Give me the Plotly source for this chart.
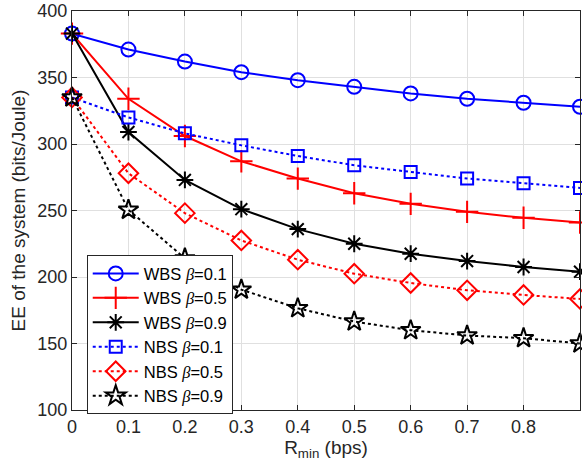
import plotly.graph_objects as go

x = [0, 0.1, 0.2, 0.3, 0.4, 0.5, 0.6, 0.7, 0.8, 0.9]
wbs_01 = [383, 371, 362, 354, 348, 343, 338, 334, 331, 328]
wbs_05 = [383, 334, 306, 287, 274, 263, 255, 249, 244.5, 241]
wbs_09 = [383, 309, 273, 251, 236, 225, 217.5, 212, 207.5, 204]
nbs_01 = [335, 320, 308, 299, 291, 284, 279, 274, 270.5, 267]
nbs_05 = [335, 278, 248, 227.5, 213, 202.5, 195.5, 190, 186.5, 183.5]
nbs_09 = [335, 250.5, 214, 190.5, 176.5, 166.5, 160, 156, 154, 150]

beta = "<span style=\"font-family:'Liberation Serif'\"><i>β</i></span>"
names = [f"WBS {beta}=0.1", f"WBS {beta}=0.5", f"WBS {beta}=0.9",
         f"NBS {beta}=0.1", f"NBS {beta}=0.5", f"NBS {beta}=0.9"]
series = [wbs_01, wbs_05, wbs_09, nbs_01, nbs_05, nbs_09]
colors = ["#0000ff", "#ff0000", "#000000", "#0000ff", "#ff0000", "#000000"]
dashes = ["solid", "solid", "solid", "dot", "dot", "dot"]
symbols = ["circle-open", "cross-thin-open", "asterisk-open",
           "square-open", "diamond-open", "star-open"]
sizes = [14, 16, 14, 12, 15, 15]

fig = go.Figure()
for n, s, c, d, sym, sz in zip(names, series, colors, dashes, symbols, sizes):
    fig.add_trace(go.Scatter(
        x=x, y=s, name=n, mode="lines+markers",
        line=dict(color=c, width=2, dash=d),
        marker=dict(symbol=sym, size=sz, color=c, line=dict(color=c, width=2)),
        cliponaxis=False,
    ))

axis_common = dict(
    showgrid=True, gridcolor="#e0e0e0", gridwidth=1,
    showline=True, linecolor="#262626", linewidth=1, mirror="ticks",
    ticks="inside", ticklen=5, tickcolor="#262626",
    tickfont=dict(family="Liberation Sans, Arial", size=18, color="#262626"),
    ticklabeloverflow="allow",
    zeroline=False,
)

fig.update_layout(
    width=582, height=472,
    margin=dict(l=72, r=1, t=9, b=62),
    plot_bgcolor="white", paper_bgcolor="white",
    font=dict(family="Liberation Sans, Arial", color="#262626"),
    xaxis=dict(range=[0, 0.9], tickvals=[0, 0.1, 0.2, 0.3, 0.4, 0.5, 0.6, 0.7, 0.8],
               ticktext=["0", "0.1", "0.2", "0.3", "0.4", "0.5", "0.6", "0.7", "0.8"],
               title=dict(text="R<sub>min</sub> (bps)", font=dict(size=19), standoff=5),
               **axis_common),
    yaxis=dict(range=[100, 400], tickvals=[100, 150, 200, 250, 300, 350, 400],
               title=dict(text="EE of the system (bits/Joule)", font=dict(size=19), standoff=6),
               **axis_common),
    legend=dict(x=0.029, y=0.388, xanchor="left", yanchor="top",
                bgcolor="white", bordercolor="#262626", borderwidth=1,
                font=dict(size=16.5, color="#000000"), itemwidth=46,
                tracegroupgap=0),
    showlegend=True,
)

fig.write_html("out.html")
